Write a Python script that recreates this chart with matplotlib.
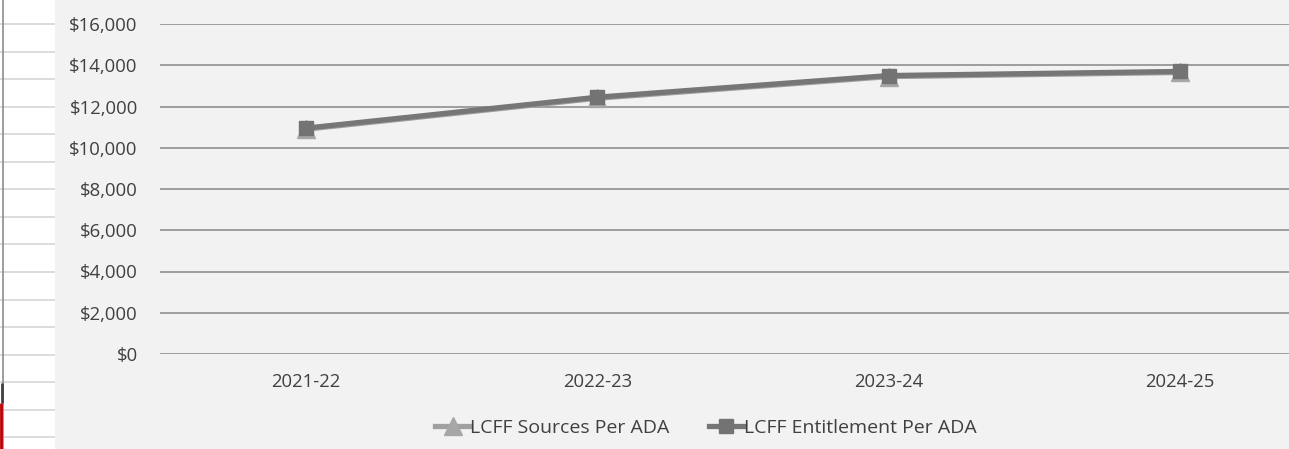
"""LCFF revenue per ADA, 2021-22 through 2024-25."""

import matplotlib.pyplot as plt
from matplotlib.ticker import FuncFormatter

W, H = 1289, 449

YEARS = ["2021-22", "2022-23", "2023-24", "2024-25"]
SOURCES_PER_ADA = [10900, 12400, 13450, 13650]
ENTITLEMENT_PER_ADA = [10950, 12450, 13500, 13700]
Y_TICKS = list(range(0, 16001, 2000))

FONT = ["Open Sans", "DejaVu Sans"]
TEXT_COLOR = "#404040"
FONT_SIZE = 13.3


def main() -> None:
    fig = plt.figure(figsize=(W / 100, H / 100), dpi=100)
    fig.patch.set_facecolor("#f2f2f2")

    # spreadsheet cells showing at the left edge
    bg = fig.add_axes([0, 0, 1, 1], zorder=-5)
    bg.set_xlim(0, W)
    bg.set_ylim(H, 0)
    bg.axis("off")
    bg.axvspan(0, 55, color="white", lw=0)
    for y in [24 + 27.55 * i for i in range(16)]:
        bg.hlines(y, 0, 55, color="#d6d6d6", lw=1.2)
    bg.vlines(3, 0, H, color="#8c8c8c", lw=1.2)
    bg.vlines(1.5, 383, 403, color="#404040", lw=2)
    bg.vlines(1, 403, H, color="#c00000", lw=2)

    ax = fig.add_axes([160 / W, 1 - 354 / H, 1166 / W, 330 / H])
    ax.set_facecolor("none")
    x = list(range(len(YEARS)))

    ax.plot(x, SOURCES_PER_ADA, color="#a0a0a0", lw=3.8, marker="^",
            markersize=13, markerfacecolor="#a6a6a6", markeredgecolor="#a6a6a6",
            label="LCFF Sources Per ADA", zorder=3)
    ax.plot(x, ENTITLEMENT_PER_ADA, color="#767676", lw=3.8, marker="s",
            markersize=10.5, markerfacecolor="#737373", markeredgecolor="#737373",
            label="LCFF Entitlement Per ADA", zorder=4)

    ax.set_xlim(-0.5, len(YEARS) - 0.5)
    ax.set_ylim(0, 16000)
    ax.set_xticks(x)
    ax.set_xticklabels(YEARS)
    ax.set_yticks(Y_TICKS)
    ax.yaxis.set_major_formatter(FuncFormatter(lambda v, _: f"${v:,.0f}"))
    ax.grid(axis="y", color="#8f8f8f", lw=1.2)
    ax.set_axisbelow(True)
    for side in ax.spines.values():
        side.set_visible(False)
    ax.tick_params(length=0, labelsize=FONT_SIZE, labelcolor=TEXT_COLOR)
    ax.tick_params(axis="y", pad=16)
    ax.tick_params(axis="x", pad=14)
    for lab in ax.get_xticklabels() + ax.get_yticklabels():
        lab.set_family(FONT)

    fig.legend(loc="center", bbox_to_anchor=(706 / W, 1 - 428 / H), ncol=2,
               frameon=False, handlelength=1.8, columnspacing=2.0,
               handletextpad=0.0, prop={"family": FONT, "size": 14},
               labelcolor=TEXT_COLOR)

    fig.savefig("out.png", dpi=100, facecolor=fig.get_facecolor())
    plt.close(fig)


if __name__ == "__main__":
    main()
